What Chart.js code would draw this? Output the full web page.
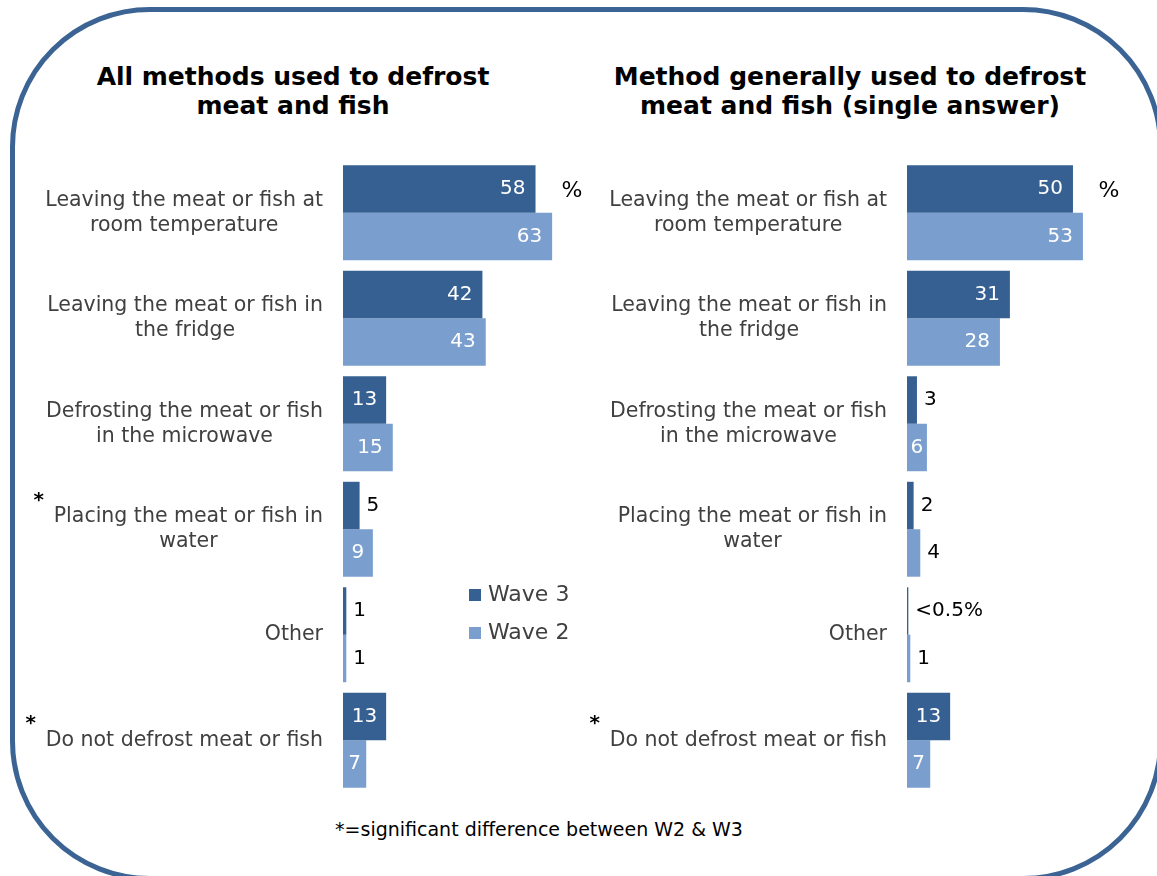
<!DOCTYPE html>
<html>
<head>
<meta charset="utf-8">
<script src="https://cdn.jsdelivr.net/npm/chart.js@4"></script>
<style>
  body { margin: 0; background: #fff; width: 1157px; height: 876px; overflow: hidden; position: relative; font-family: "DejaVu Sans", Verdana, sans-serif; }
  .frame { position: absolute; left: 10px; top: 7px; width: 1153px; height: 874px; box-sizing: border-box; border: 5px solid #3b6393; border-radius: 140px; }
  .title { position: absolute; width: 560px; text-align: center; font-weight: bold; font-size: 25px; line-height: 29px; color: #000; }
  .note { position: absolute; left: 239px; width: 600px; top: 818px; text-align: center; font-size: 19px; color: #000; }
  canvas { position: absolute; top: 160px; }
</style>
</head>
<body>
<div class="frame"></div>
<div class="title" style="left:13px; top:62px;">All methods used to defrost<br>meat and fish</div>
<div class="title" style="left:570px; top:62px;">Method generally used to defrost<br>meat and fish (single answer)</div>
<canvas id="allChart" width="582" height="633" style="left:0px;"></canvas>
<canvas id="usualChart" width="582" height="633" style="left:564px;"></canvas>
<div class="note">*=significant difference between W2 &amp; W3</div>

<script>
const categories = [
  ["Leaving the meat or fish at", "room temperature"],
  ["Leaving the meat or fish in", "the fridge"],
  ["Defrosting the meat or fish", "in the microwave"],
  ["Placing the meat or fish in", "water"],
  ["Other"],
  ["Do not defrost meat or fish"],
];
const seriesNames = ["Wave 3", "Wave 2"];
const seriesColors = ["#376092", "#7a9fcf"];

// all methods used
const allWave3 = [58, 42, 13, 5, 1, 13];
const allWave2 = [63, 43, 15, 9, 1, 7];
const allSignificant = [false, false, false, true, false, true];

// method generally used (single answer), "Other" wave 3 is <0.5%
const usualWave3 = [50, 31, 3, 2, 0.4, 13];
const usualWave2 = [53, 28, 6, 4, 1, 7];
const usualSignificant = [false, false, false, false, false, true];

const FONT = '"DejaVu Sans", Verdana, sans-serif';
const LABEL_RIGHT = 323;

function formatValue(v) {
  return v < 0.5 ? "<0.5%" : String(v);
}

const sideLabels = {
  id: "sideLabels",
  afterDatasetsDraw(chart, args, opts) {
    const ctx = chart.ctx;
    const yScale = chart.scales.y;
    ctx.save();

    // category labels, wrapped lines centred in a right-aligned block
    ctx.font = "20.5px " + FONT;
    ctx.textBaseline = "middle";
    chart.data.labels.forEach((lines, i) => {
      const y = yScale.getPixelForValue(i);
      const lh = 25;
      let maxW = 0;
      lines.forEach((l) => (maxW = Math.max(maxW, ctx.measureText(l).width)));
      const cx = LABEL_RIGHT - maxW / 2;
      const top = y - ((lines.length - 1) * lh) / 2;
      ctx.fillStyle = "#404040";
      ctx.textAlign = "center";
      lines.forEach((l, k) => ctx.fillText(l, cx, top + k * lh));
      if (opts.significant[i]) {
        ctx.fillStyle = "#000";
        ctx.font = "bold 20px " + FONT;
        ctx.fillText("*", cx - maxW / 2 - 15, top - 16);
        ctx.font = "20.5px " + FONT;
      }
    });

    // value labels
    ctx.font = "20px " + FONT;
    chart.data.datasets.forEach((ds, di) => {
      const meta = chart.getDatasetMeta(di);
      meta.data.forEach((bar, i) => {
        const v = ds.data[i];
        const txt = formatValue(v);
        const w = ctx.measureText(txt).width;
        const barW = bar.x - bar.base;
        if (v >= 6) {
          const gap = Math.min(10, Math.max(3, (barW - w) / 2));
          ctx.fillStyle = "#fff";
          ctx.textAlign = "right";
          ctx.fillText(txt, bar.x - gap, bar.y);
        } else {
          ctx.fillStyle = "#000";
          ctx.textAlign = "left";
          ctx.fillText(txt, bar.x + 7, bar.y);
        }
      });
    });

    // percent sign next to the first row
    const first = chart.getDatasetMeta(0).data[0];
    ctx.fillStyle = "#000";
    ctx.textAlign = "center";
    ctx.font = "22px " + FONT;
    ctx.fillText("%", opts.percentX, first.y + 2);

    // legend
    if (opts.legend) {
      const lg = opts.legend;
      chart.data.datasets.forEach((ds, di) => {
        const ly = lg.y + di * 38;
        ctx.fillStyle = ds.backgroundColor;
        ctx.fillRect(lg.x, ly - 6, 12, 12);
        ctx.fillStyle = "#404040";
        ctx.textAlign = "left";
        ctx.font = "22px " + FONT;
        ctx.fillText(ds.label, lg.x + 19, ly);
      });
    }
    ctx.restore();
  },
};

function makeChart(id, wave3, wave2, significant, percentX, legend) {
  return new Chart(document.getElementById(id), {
    type: "bar",
    data: {
      labels: categories,
      datasets: [
        { label: seriesNames[0], data: wave3, backgroundColor: seriesColors[0] },
        { label: seriesNames[1], data: wave2, backgroundColor: seriesColors[1] },
      ],
    },
    options: {
      indexAxis: "y",
      responsive: false,
      animation: false,
      devicePixelRatio: 1,
      layout: { padding: { left: 343, right: 0, top: 0, bottom: 0 } },
      datasets: { bar: { categoryPercentage: 0.9, barPercentage: 1 } },
      scales: {
        x: { display: false, min: 0, max: 72 },
        y: { display: false },
      },
      plugins: {
        legend: { display: false },
        tooltip: { enabled: false },
        sideLabels: { significant: significant, percentX: percentX, legend: legend },
      },
    },
    plugins: [sideLabels],
  });
}

makeChart("allChart", allWave3, allWave2, allSignificant, 572, { x: 469, y: 435 });
makeChart("usualChart", usualWave3, usualWave2, usualSignificant, 545, null);
</script>
</body>
</html>
